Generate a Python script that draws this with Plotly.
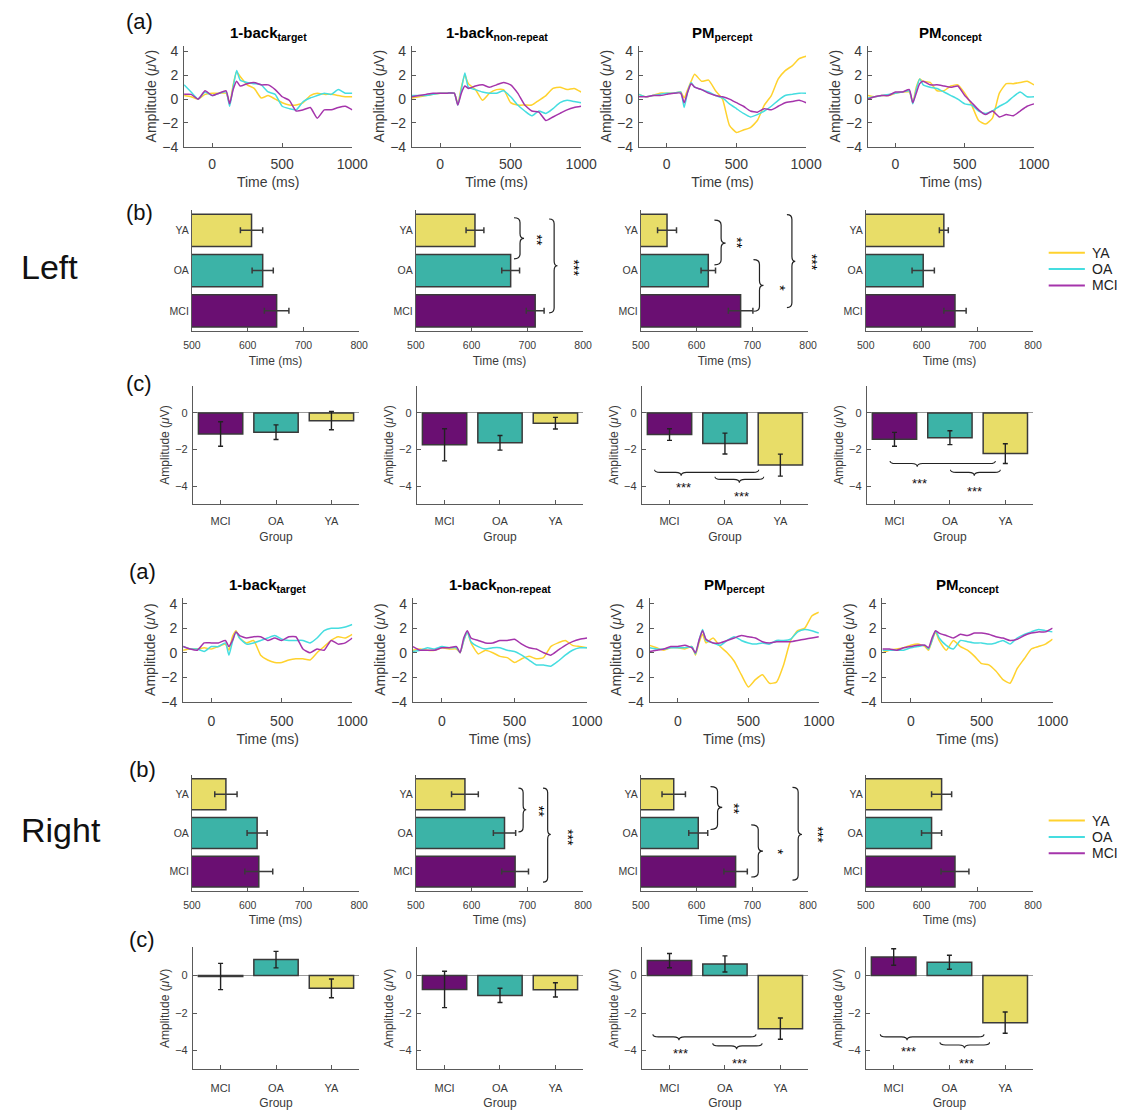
import plotly.graph_objects as go

W, H = 1140, 1113

# ---------------- ERP waveforms (µV) sampled on a common time axis (ms) ----------------
T = [-200, -150, -100, -50, 0, 50, 100, 125, 150, 175, 200, 250, 300, 350, 400,
     450, 500, 550, 600, 650, 700, 750, 800, 850, 900, 950, 1000]

# Left hemisphere
left_target_ya = [0.3, 0.2, 0.0, 0.4, 0.5, 0.5, 0.5, -0.4, 1.2, 2.3, 1.9, 1.2, 0.9, 0.1, 0.3, 0.0, -0.3, -0.5, -0.5, -0.3, 0.3, 0.5, 0.4, 0.4, 0.3, 0.2, 0.2]
left_target_oa = [1.2, 0.6, 0.0, 0.6, 0.3, 0.5, 0.6, -0.6, 1.0, 2.4, 1.6, 1.4, 1.3, 1.2, 0.6, 0.4, -0.6, -0.8, -0.9, -0.2, 0.1, 0.3, 0.5, 0.4, 0.8, 0.5, 0.5]
left_target_mci = [0.4, 0.4, 0.0, 0.7, 0.3, 0.5, 0.7, -0.4, 0.8, 1.5, 1.1, 1.3, 1.4, 1.2, 1.2, 0.8, 0.2, -0.1, -1.0, -0.9, -0.7, -1.6, -0.9, -0.9, -0.7, -0.6, -0.9]

left_nonrep_ya = [0.1, 0.2, 0.3, 0.4, 0.5, 0.5, 0.5, -0.4, 1.0, 2.0, 1.3, 0.8, -0.1, 0.5, 0.8, 0.8, -0.3, -0.5, -0.5, -0.5, -0.1, 0.3, 0.9, 1.0, 0.8, 0.9, 0.6]
left_nonrep_oa = [0.3, 0.3, 0.3, 0.4, 0.5, 0.5, 0.5, -0.5, 0.8, 2.2, 1.0, 0.8, 0.6, 0.5, 0.5, 0.7, 0.2, -0.5, -1.0, -1.4, -1.0, -1.2, -0.8, -0.3, -0.1, -0.2, -0.3]
left_nonrep_mci = [0.2, 0.3, 0.4, 0.5, 0.5, 0.5, 0.5, -0.5, 0.5, 1.1, 0.9, 1.1, 1.2, 1.0, 1.2, 1.4, 1.2, 0.5, -0.5, -1.0, -1.1, -1.8, -1.5, -1.2, -0.9, -0.7, -0.6]

left_percept_ya = [0.4, 0.2, 0.3, 0.5, 0.5, 0.5, 0.6, 0.1, 0.8, 1.5, 2.1, 1.5, 1.6, 0.7, 0.0, -2.2, -2.8, -2.6, -2.4, -1.8, -0.5, 0.3, 1.7, 2.4, 2.8, 3.4, 3.6]
left_percept_oa = [0.4, 0.2, 0.3, 0.4, 0.5, 0.5, 0.6, -0.7, 0.6, 1.4, 1.0, 0.8, 0.6, 0.3, 0.1, -0.4, -0.8, -1.2, -1.5, -1.3, -1.0, -0.6, -0.1, 0.3, 0.4, 0.5, 0.5]
left_percept_mci = [0.2, 0.2, 0.3, 0.3, 0.4, 0.5, 0.5, -0.3, 0.6, 1.3, 1.0, 0.8, 0.5, 0.3, 0.2, 0.0, -0.3, -0.6, -1.0, -1.1, -0.8, -0.9, -0.6, -0.3, -0.2, -0.1, -0.3]

left_concept_ya = [0.3, 0.2, 0.3, 0.3, 0.5, 0.6, 0.6, -0.3, 1.0, 1.7, 1.5, 1.4, 0.7, 0.7, 1.1, 1.2, 0.5, -0.5, -1.8, -2.1, -1.6, 0.5, 1.3, 1.3, 1.4, 1.5, 1.2]
left_concept_oa = [0.1, 0.2, 0.3, 0.4, 0.5, 0.6, 0.7, -0.4, 0.8, 1.7, 1.2, 1.0, 0.9, 0.6, 0.3, 0.0, -0.4, -0.5, -1.0, -1.2, -1.0, -0.6, -0.3, 0.2, 0.6, 0.2, 0.2]
left_concept_mci = [0.0, 0.2, 0.3, 0.3, 0.6, 0.6, 0.8, -0.3, 0.5, 1.3, 1.5, 1.2, 1.2, 1.1, 1.0, 1.1, 0.3, -0.3, -0.9, -1.3, -1.0, -1.5, -1.3, -1.4, -1.0, -0.6, -0.4]

# Right hemisphere
right_target_ya = [0.2, 0.3, 0.3, 0.4, 0.3, 0.5, 0.7, 0.2, 1.3, 1.8, 1.2, 0.8, 1.0, -0.2, -0.6, -0.8, -0.8, -0.6, -0.5, -0.5, -0.6, 0.0, 0.5, 1.0, 1.3, 1.2, 1.5]
right_target_oa = [0.5, 0.3, 0.3, 0.1, 0.5, 0.5, 0.8, -0.2, 0.9, 1.7, 1.2, 0.7, 0.8, 1.0, 1.2, 1.4, 1.1, 1.0, 1.0, 1.0, 0.8, 1.2, 1.8, 2.0, 2.0, 2.1, 2.3]
right_target_mci = [0.5, 0.3, 0.2, 0.8, 0.8, 0.8, 1.0, 0.5, 1.0, 1.7, 1.4, 1.2, 1.3, 1.3, 1.0, 1.2, 1.0, 1.3, 1.3, 0.3, 0.0, 0.3, 0.2, 1.0, 0.7, 0.8, 1.2]

right_nonrep_ya = [0.2, 0.3, 0.2, 0.2, 0.4, 0.3, 0.3, 0.0, 1.0, 1.7, 0.8, -0.1, 0.2, 0.0, -0.3, -0.4, -0.8, -0.5, -0.3, -0.5, -0.4, 0.5, 0.8, 1.0, 0.6, 0.5, 0.4]
right_nonrep_oa = [0.1, 0.2, 0.4, 0.3, 0.5, 0.4, 0.4, 0.0, 1.0, 1.7, 0.9, 0.5, 0.3, 0.4, 0.4, 0.2, 0.1, -0.2, -0.6, -1.0, -1.0, -1.1, -0.7, -0.2, 0.2, 0.4, 0.4]
right_nonrep_mci = [0.5, 0.2, 0.2, 0.2, 0.4, 0.4, 0.5, 0.0, 1.2, 1.8, 1.2, 1.0, 0.8, 0.8, 1.0, 1.0, 1.1, 0.7, 0.4, 0.3, 0.0, -0.2, 0.2, 0.6, 0.9, 1.1, 1.2]

right_percept_ya = [0.6, 0.4, 0.2, 0.4, 0.4, 0.3, 0.5, -0.2, 0.8, 1.5, 0.8, 1.2, 0.5, 0.0, -0.7, -1.8, -2.8, -2.2, -1.8, -2.5, -2.4, -1.0, 1.0, 1.8, 2.0, 3.0, 3.3]
right_percept_oa = [0.4, 0.3, 0.3, 0.4, 0.4, 0.4, 0.5, -0.1, 1.0, 1.9, 1.0, 0.8, 0.6, 1.0, 1.3, 1.0, 0.8, 0.7, 0.8, 0.7, 1.0, 1.0, 1.1, 1.7, 1.9, 1.8, 1.6]
right_percept_mci = [0.1, 0.2, 0.3, 0.5, 0.5, 0.6, 0.4, 0.0, 1.0, 1.8, 1.1, 0.8, 0.8, 1.0, 1.2, 1.4, 1.3, 1.2, 0.9, 0.8, 0.9, 0.9, 0.9, 1.0, 1.1, 1.2, 1.3]

right_concept_ya = [0.0, 0.2, 0.3, 0.4, 0.6, 0.7, 0.5, 0.2, 1.0, 1.7, 1.0, 0.2, 1.0, 0.5, 0.2, -0.3, -0.9, -1.0, -1.5, -2.2, -2.5, -1.3, -0.5, 0.3, 0.5, 0.7, 1.1]
right_concept_oa = [0.2, 0.2, 0.2, 0.2, 0.4, 0.5, 0.6, 0.3, 1.0, 1.8, 1.2, 0.6, 0.3, 1.0, 0.9, 0.8, 0.8, 0.7, 0.8, 1.0, 0.7, 1.2, 1.5, 1.7, 1.9, 1.8, 1.7]
right_concept_mci = [0.3, 0.3, 0.2, 0.4, 0.5, 0.6, 0.6, 0.4, 1.2, 1.8, 1.6, 1.4, 1.2, 1.5, 1.4, 1.6, 1.6, 1.5, 1.3, 1.2, 1.0, 1.1, 1.4, 1.6, 1.7, 1.7, 2.0]

# ---------------- Peak latency (ms), order YA, OA, MCI ----------------
LAT_GROUPS = ["YA", "OA", "MCI"]
LAT_TICKS = [3, 2, 1]
lat_left_target = [607, 627, 652]
lat_left_target_err = [20, 19, 22]
lat_left_nonrep = [606, 670, 714]
lat_left_nonrep_err = [16, 16, 16]
lat_left_percept = [547, 621, 679]
lat_left_percept_err = [17, 13, 22]
lat_left_concept = [640, 603, 660]
lat_left_concept_err = [8, 20, 20]
lat_right_target = [561, 617, 620]
lat_right_target_err = [20, 18, 25]
lat_right_nonrep = [588, 659, 678]
lat_right_nonrep_err = [24, 20, 24]
lat_right_percept = [559, 603, 670]
lat_right_percept_err = [21, 17, 21]
lat_right_concept = [636, 618, 660]
lat_right_concept_err = [18, 18, 25]

# ---------------- Mean amplitude (µV), order MCI, OA, YA ----------------
AMP_GROUPS = ["MCI", "OA", "YA"]
AMP_TICKS = [1, 2, 3]
amp_left_target = [-1.15, -1.05, -0.42]
amp_left_target_err = [0.67, 0.40, 0.50]
amp_left_nonrep = [-1.74, -1.63, -0.56]
amp_left_nonrep_err = [0.88, 0.40, 0.32]
amp_left_percept = [-1.18, -1.67, -2.85]
amp_left_percept_err = [0.32, 0.57, 0.60]
amp_left_concept = [-1.44, -1.35, -2.22]
amp_left_concept_err = [0.38, 0.38, 0.54]
amp_right_target = [-0.05, 0.85, -0.68]
amp_right_target_err = [0.70, 0.44, 0.50]
amp_right_nonrep = [-0.74, -1.06, -0.76]
amp_right_nonrep_err = [0.97, 0.38, 0.38]
amp_right_percept = [0.80, 0.62, -2.83]
amp_right_percept_err = [0.38, 0.43, 0.57]
amp_right_concept = [0.99, 0.71, -2.51]
amp_right_concept_err = [0.44, 0.37, 0.57]

# Significance braces on latency panels: (x_end, x_tip, y_top, y_bottom, y_tip, label, label_x, label_y)
sig_lat_left_nonrep = [(676, 694, 3.31, 2.29, 2.80, "**", 718, 2.76),
                       (739, 754, 3.28, 0.95, 2.12, "***", 783, 2.06)]
sig_lat_left_percept = [(632, 652, 3.25, 2.14, 2.68, "**", 671, 2.70),
                        (702, 720, 2.27, 0.99, 1.63, "*", 749, 1.57),
                        (762, 777, 3.39, 1.08, 2.23, "***", 807, 2.19)]
sig_lat_right_nonrep = [(684, 698, 3.16, 2.03, 2.60, "**", 721, 2.57),
                        (728, 742, 3.16, 0.73, 1.96, "***", 773, 1.89)]
sig_lat_right_percept = [(625, 646, 3.20, 2.09, 2.66, "**", 668, 2.63),
                         (698, 719, 2.21, 0.86, 1.53, "*", 746, 1.51),
                         (772, 789, 3.18, 0.78, 1.96, "***", 818, 1.96)]

# Significance braces on amplitude panels: (x_start, x_end, x_tip, y, label, label_x, label_y)
sig_amp_left_percept = [(0.73, 2.61, 1.21, -3.25, "***", 1.26, -4.07),
                        (1.82, 2.70, 2.26, -3.63, "***", 2.30, -4.56)]
sig_amp_left_concept = [(0.92, 2.82, 1.41, -2.76, "***", 1.45, -3.84),
                        (2.01, 2.91, 2.44, -3.25, "***", 2.44, -4.30)]
sig_amp_right_percept = [(0.70, 2.56, 1.17, -3.27, "***", 1.20, -4.13),
                         (1.78, 2.67, 2.21, -3.75, "***", 2.26, -4.67)]
sig_amp_right_concept = [(0.76, 2.62, 1.24, -3.27, "***", 1.27, -4.05),
                         (1.83, 2.72, 2.27, -3.70, "***", 2.30, -4.67)]

CONDITIONS = [("1-back", "target"), ("1-back", "non-repeat"), ("PM", "percept"), ("PM", "concept")]

ERP = {
    0: [(left_target_ya, left_target_oa, left_target_mci),
        (left_nonrep_ya, left_nonrep_oa, left_nonrep_mci),
        (left_percept_ya, left_percept_oa, left_percept_mci),
        (left_concept_ya, left_concept_oa, left_concept_mci)],
    1: [(right_target_ya, right_target_oa, right_target_mci),
        (right_nonrep_ya, right_nonrep_oa, right_nonrep_mci),
        (right_percept_ya, right_percept_oa, right_percept_mci),
        (right_concept_ya, right_concept_oa, right_concept_mci)],
}
LAT = {
    0: [(lat_left_target, lat_left_target_err, []),
        (lat_left_nonrep, lat_left_nonrep_err, sig_lat_left_nonrep),
        (lat_left_percept, lat_left_percept_err, sig_lat_left_percept),
        (lat_left_concept, lat_left_concept_err, [])],
    1: [(lat_right_target, lat_right_target_err, []),
        (lat_right_nonrep, lat_right_nonrep_err, sig_lat_right_nonrep),
        (lat_right_percept, lat_right_percept_err, sig_lat_right_percept),
        (lat_right_concept, lat_right_concept_err, [])],
}
AMP = {
    0: [(amp_left_target, amp_left_target_err, []),
        (amp_left_nonrep, amp_left_nonrep_err, []),
        (amp_left_percept, amp_left_percept_err, sig_amp_left_percept),
        (amp_left_concept, amp_left_concept_err, sig_amp_left_concept)],
    1: [(amp_right_target, amp_right_target_err, []),
        (amp_right_nonrep, amp_right_nonrep_err, []),
        (amp_right_percept, amp_right_percept_err, sig_amp_right_percept),
        (amp_right_concept, amp_right_concept_err, sig_amp_right_concept)],
}

LINE_GROUPS = ["YA", "OA", "MCI"]
LINE_COLORS = {"YA": "#FFD22E", "OA": "#45DDE0", "MCI": "#A534AB"}
BAR_COLORS = {"MCI": "#6A0F72", "OA": "#3CB3A7", "YA": "#E8DD68"}
EDGE = "#3a3a3a"
AXC = "#5a5a5a"
TXT = "#3a3a3a"
FONT = "Liberation Sans, Arial, Helvetica, sans-serif"
LAT_RANGE = [500, 800]

# Axes boxes in pixels: (lefts, widths, top, bottom) per hemisphere section and row
BOX = {
    (0, "a"): ([179, 412, 644, 878], [172, 173, 171, 170], 44, 146),
    (0, "b"): ([187, 416, 646, 876], [171, 171, 171, 171], 210, 332),
    (0, "c"): ([188, 417, 647, 877], [170, 170, 170, 170], 387, 507),
    (1, "a"): ([178, 413, 655, 893], [173, 178, 173, 174], 601, 706),
    (1, "b"): ([187, 416, 646, 876], [171, 171, 171, 171], 780, 897),
    (1, "c"): ([188, 417, 647, 876], [170, 170, 170, 171], 954, 1077),
}
ROWS = ["a", "b", "c"]
# Legend block per section: (line start, line end, text x, first row y, row step) in pixels
LEGEND_POS = {0: (1063, 1100, 1105, 253, 16.5), 1: (1063, 1100, 1105, 826, 16.5)}

fig = go.Figure()
layout = dict(width=W, height=H, margin=dict(l=0, r=0, t=0, b=0),
              paper_bgcolor="white", plot_bgcolor="white",
              font=dict(family=FONT, color=TXT), showlegend=False)
annotations, shapes = [], []


def sfx(n):
    return "" if n == 1 else str(n)


def base_axis(**kw):
    d = dict(showline=True, linecolor=AXC, linewidth=1, ticks="inside", ticklen=4,
             tickcolor=AXC, showgrid=False, zeroline=False, mirror=False, fixedrange=True)
    d.update(kw)
    return d


def vbrace(x0, xt, ytop, ybot, ym, ry=0.12):
    xl = x0 + 0.6 * (xt - x0)
    return (f"M{x0},{ytop} Q{xl},{ytop} {xl},{ytop - ry} L{xl},{ym + ry} "
            f"Q{xl},{ym} {xt},{ym} Q{xl},{ym} {xl},{ym - ry} "
            f"L{xl},{ybot + ry} Q{xl},{ybot} {x0},{ybot}")


def hbrace(x0, x1, xm, y, curl=0.14, tip=0.18, rx=0.1):
    return (f"M{x0},{y + curl} Q{x0},{y} {x0 + rx},{y} L{xm - rx},{y} "
            f"Q{xm},{y} {xm},{y - tip} Q{xm},{y} {xm + rx},{y} "
            f"L{x1 - rx},{y} Q{x1},{y} {x1},{y + curl}")


for s in (0, 1):
    for r_i, row in enumerate(ROWS):
        lefts, widths, top, bottom = BOX[(s, row)]
        for c in range(4):
            n = 1 + s * 12 + r_i * 4 + c
            xs, ys = "x" + sfx(n), "y" + sfx(n)
            xd = [lefts[c] / W, (lefts[c] + widths[c]) / W]
            yd = [1 - bottom / H, 1 - top / H]

            if row == "a":
                xa = base_axis(range=[-200, 1000], tickvals=[0, 500, 1000],
                               tickfont=dict(size=14), ticklabelstandoff=5 + 2 * s,
                               title=dict(text="Time (ms)", font=dict(size=14), standoff=5))
                ya = base_axis(range=[-4, 4.5], tickvals=[-4, -2, 0, 2, 4],
                               tickfont=dict(size=14), ticklabelstandoff=2,
                               title=dict(text="Amplitude (<i>\u03bc</i>V)", font=dict(size=14), standoff=2))
                for g, vals in zip(LINE_GROUPS, ERP[s][c]):
                    fig.add_trace(go.Scatter(
                        x=T, y=vals, mode="lines", name=g,
                        line=dict(color=LINE_COLORS[g], width=1.5, shape="spline", smoothing=0.5),
                        xaxis=xs, yaxis=ys, hoverinfo="skip"))
                base, sub = CONDITIONS[c]
                annotations.append(dict(
                    text=f"<b>{base}<sub>{sub}</sub></b>", xref=f"{xs} domain", yref=f"{ys} domain",
                    x=0.5, y=1.0, xanchor="center", yanchor="bottom", yshift=1,
                    showarrow=False, font=dict(size=15, color="#000")))

            elif row == "b":
                vals, errs, sig = LAT[s][c]
                xa = base_axis(range=LAT_RANGE, tickvals=[500, 600, 700, 800],
                               tickfont=dict(size=10.5), ticklabelstandoff=4,
                               title=dict(text="Time (ms)", font=dict(size=12), standoff=6))
                ya = base_axis(range=[0.5, 3.5], tickvals=LAT_TICKS, ticktext=LAT_GROUPS,
                               ticks="", tickfont=dict(size=10.5))
                fig.add_trace(go.Bar(
                    y=LAT_TICKS, x=vals, orientation="h", width=0.8,
                    marker=dict(color=[BAR_COLORS[g] for g in LAT_GROUPS],
                                line=dict(color=EDGE, width=1.5)),
                    error_x=dict(type="data", array=errs, color=EDGE, thickness=1.5, width=3),
                    xaxis=xs, yaxis=ys, hoverinfo="skip"))
                span = LAT_RANGE[1] - LAT_RANGE[0]
                for (x0, xt, yt, yb, ym, lab, lx, ly) in sig:
                    shapes.append(dict(type="path", path=vbrace(x0, xt, yt, yb, ym),
                                       xref=xs, yref=ys, line=dict(color="#222", width=1.2)))
                    # label x as a fraction of the axis so it may sit past the range end
                    annotations.append(dict(text=lab, x=(lx - LAT_RANGE[0]) / span, y=ly,
                                            xref=f"{xs} domain", yref=ys,
                                            xanchor="center", yanchor="middle",
                                            textangle=90, showarrow=False,
                                            font=dict(size=14, color="#000")))

            else:
                vals, errs, sig = AMP[s][c]
                xa = base_axis(range=[0.5, 3.5], tickvals=AMP_TICKS, ticktext=AMP_GROUPS,
                               tickfont=dict(size=11), ticklabelstandoff=6 + 2 * s,
                               title=dict(text="Group", font=dict(size=12), standoff=6))
                ya = base_axis(range=[-5, 1.5], tickvals=[-4, -2, 0], tickfont=dict(size=11),
                               ticklabelstandoff=2,
                               zeroline=True, zerolinecolor="#9a9a9a", zerolinewidth=1,
                               title=dict(text="Amplitude (<i>\u03bc</i>V)", font=dict(size=12), standoff=2))
                fig.add_trace(go.Bar(
                    x=AMP_TICKS, y=vals, width=0.8,
                    marker=dict(color=[BAR_COLORS[g] for g in AMP_GROUPS],
                                line=dict(color=EDGE, width=1.5)),
                    error_y=dict(type="data", array=errs, color="#222", thickness=1.4, width=2.5),
                    xaxis=xs, yaxis=ys, hoverinfo="skip"))
                for (x0, x1, xm, y, lab, lx, ly) in sig:
                    shapes.append(dict(type="path", path=hbrace(x0, x1, xm, y),
                                       xref=xs, yref=ys, line=dict(color="#222", width=1.1)))
                    annotations.append(dict(text=lab, x=lx, y=ly, xref=xs, yref=ys,
                                            xanchor="center", yanchor="middle",
                                            showarrow=False, font=dict(size=13, color="#111")))

            layout["xaxis" + sfx(n)] = dict(domain=xd, anchor=ys, **xa)
            layout["yaxis" + sfx(n)] = dict(domain=yd, anchor=xs, **ya)

# Group key next to each latency row
for s, (lx0, lx1, tx, y0, step) in LEGEND_POS.items():
    for i, g in enumerate(LINE_GROUPS):
        yy = 1 - (y0 + i * step) / H
        shapes.append(dict(type="line", xref="paper", yref="paper", x0=lx0 / W, x1=lx1 / W,
                           y0=yy, y1=yy, line=dict(color=LINE_COLORS[g], width=2)))
        annotations.append(dict(text=g, xref="paper", yref="paper", x=tx / W, y=yy,
                                xanchor="left", yanchor="middle", showarrow=False,
                                font=dict(size=14, color="#222")))

# Row letters and hemisphere labels
for txt, px, py in [("(a)", 118, 20), ("(b)", 118, 212), ("(c)", 118, 385),
                    ("(a)", 121, 575), ("(b)", 121, 774), ("(c)", 121, 946)]:
    annotations.append(dict(text=txt, xref="paper", yref="paper", x=px / W, y=1 - py / H,
                            xanchor="left", yanchor="middle", showarrow=False,
                            font=dict(size=22, color="#111")))
for txt, px, py in [("Left", 10, 267), ("Right", 10, 836)]:
    annotations.append(dict(text=txt, xref="paper", yref="paper", x=px / W, y=1 - py / H,
                            xanchor="left", yanchor="middle", showarrow=False,
                            font=dict(size=34, color="#111")))

layout["annotations"] = annotations
layout["shapes"] = shapes

fig.update_layout(**layout)
fig.write_html("out.html")
